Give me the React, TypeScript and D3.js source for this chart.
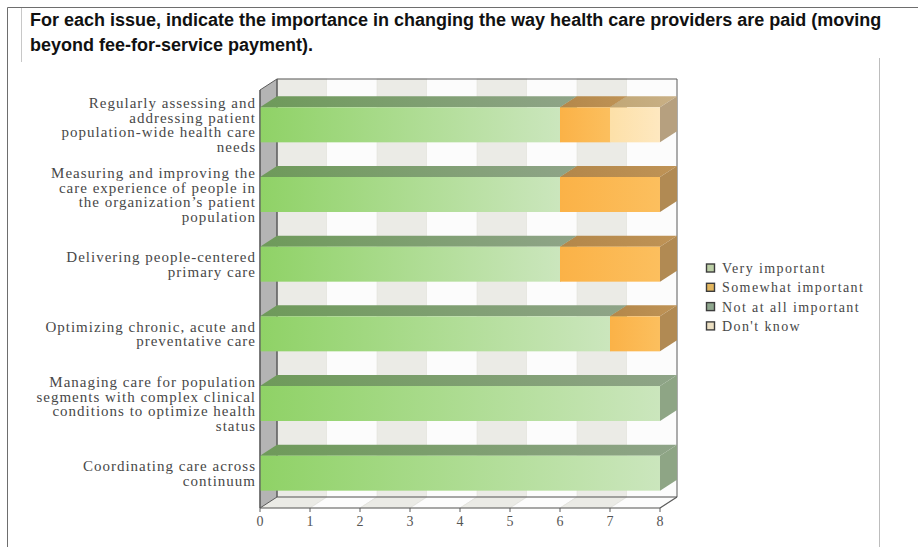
import React from "react";
import * as d3 from "d3";

const W = 918;
const H = 547;

const titleLines = [
  "For each issue, indicate the importance in changing the way health care providers are paid (moving",
  "beyond fee-for-service payment).",
];

const categories = [
  "Regularly assessing and addressing patient population-wide health care needs",
  "Measuring and improving the care experience of people in the organization's patient population",
  "Delivering people-centered primary care",
  "Optimizing chronic, acute and preventative care",
  "Managing care for population segments with complex clinical conditions to optimize health status",
  "Coordinating care across continuum",
];

const categoryLines = [
  ["Regularly assessing and", "addressing patient", "population-wide health care", "needs"],
  ["Measuring and improving the", "care experience of people in", "the organization\u2019s patient", "population"],
  ["Delivering people-centered", "primary care"],
  ["Optimizing chronic, acute and", "preventative care"],
  ["Managing care for population", "segments with complex clinical", "conditions to optimize health", "status"],
  ["Coordinating care across", "continuum"],
];

const seriesNames = ["Very important", "Somewhat important", "Not at all important", "Don't know"];
const veryImportant = [6, 6, 6, 7, 8, 8];
const somewhatImportant = [1, 2, 2, 1, 0, 0];
const notAtAllImportant = [0, 0, 0, 0, 0, 0];
const dontKnow = [1, 0, 0, 0, 0, 0];

const xTicks = [0, 1, 2, 3, 4, 5, 6, 7, 8];

// styles per series
const seriesStyle = [
  { front: ["#8fd266", "#cbe6bd"], top: ["#6e9a5a", "#8fa488"], side: "#8ea585", legend: "#bccfa6" },
  { front: ["#fbb247", "#fcbf5e"], top: ["#b3874a", "#bf9356"], side: "#b18a53", legend: "#e2b65e" },
  { front: ["#8aa47e", "#a9bda0"], top: ["#6b7f62", "#7f9278"], side: "#788c6f", legend: "#8fa78e" },
  { front: ["#fde0a8", "#fee8c0"], top: ["#c1a776", "#c9b086"], side: "#b6a07f", legend: "#ebdfc2" },
];

const DX = 17;
const DY = -11;

export default function App() {
  const x = d3.scaleLinear().domain([0, 8]).range([260, 660]);
  const y = d3
    .scaleBand<string>()
    .domain(categories)
    .range([90, 508])
    .paddingInner(0.4976)
    .paddingOuter(0.2488);

  const table = categories.map((c, i) => ({
    cat: c,
    [seriesNames[0]]: veryImportant[i],
    [seriesNames[1]]: somewhatImportant[i],
    [seriesNames[2]]: notAtAllImportant[i],
    [seriesNames[3]]: dontKnow[i],
  }));
  const stacked = d3.stack<any>().keys(seriesNames)(table);

  const x0 = x(0);
  const x8 = x(8);
  const yTop = 90;
  const yBot = 508;
  const frame = "#5b5b5b";
  const serif = "'Liberation Serif', 'Times New Roman', serif";

  const poly = (pts: [number, number][]) => pts.map((p) => p.join(",")).join(" ");

  const bands = xTicks.slice(0, -1).map((t) => ({ a: x(t), b: x(t + 1), gray: t % 2 === 0 }));

  return (
    <svg width={W} height={H} style={{ position: "absolute", left: 0, top: 0, background: "#fff" }}>
      <defs>
        {seriesStyle.map((s, i) => (
          <React.Fragment key={i}>
            <linearGradient id={`front${i}`} x1="0" x2="1" y1="0" y2="0">
              <stop offset="0" stopColor={s.front[0]} />
              <stop offset="1" stopColor={s.front[1]} />
            </linearGradient>
            <linearGradient id={`top${i}`} x1="0" x2="1" y1="0" y2="0">
              <stop offset="0" stopColor={s.top[0]} />
              <stop offset="1" stopColor={s.top[1]} />
            </linearGradient>
          </React.Fragment>
        ))}
      </defs>
      <rect x={0} y={0} width={W} height={H} fill="#ffffff" />
      {/* page frame */}
      <line x1={7.5} y1={7.5} x2={W} y2={7.5} stroke="#6e6e6e" strokeWidth={1} />
      <line x1={7.5} y1={7.5} x2={7.5} y2={H} stroke="#6e6e6e" strokeWidth={1} />
      <line x1={21.5} y1={8} x2={21.5} y2={62} stroke="#c8c8c8" strokeWidth={1} />
      <line x1={879.5} y1={58} x2={879.5} y2={H} stroke="#bdbdbd" strokeWidth={1} />

      {/* title */}
      {titleLines.map((t, i) => (
        <text
          key={i}
          x={30}
          y={26 + i * 25}
          fontFamily="'Liberation Sans', Arial, sans-serif"
          fontWeight="bold"
          fontSize={18}
          fill="#111"
        >
          {t}
        </text>
      ))}

      {/* back wall bands */}
      {bands.map((b, i) => (
        <rect
          key={`bw${i}`}
          x={b.a + DX}
          y={yTop + DY}
          width={b.b - b.a}
          height={yBot - yTop}
          fill={b.gray ? "#ebebe6" : "#fcfcfc"}
          stroke={b.gray ? "#e0e0da" : "none"}
          strokeWidth={0.6}
        />
      ))}
      {/* floor bands */}
      {bands.map((b, i) => (
        <polygon
          key={`fl${i}`}
          points={poly([
            [b.a, yBot],
            [b.b, yBot],
            [b.b + DX, yBot + DY],
            [b.a + DX, yBot + DY],
          ])}
          fill={b.gray ? "#ebebe6" : "#fcfcfc"}
          stroke="#dcdcd6"
          strokeWidth={0.6}
        />
      ))}
      {/* left wall */}
      <polygon
        points={poly([
          [x0, yTop],
          [x0 + DX, yTop + DY],
          [x0 + DX, yBot + DY],
          [x0, yBot],
        ])}
        fill="#b4b4b4"
        stroke={frame}
        strokeWidth={1}
      />
      {/* back wall frame */}
      <polyline
        points={poly([
          [x0 + DX, yBot + DY],
          [x0 + DX, yTop + DY],
          [x8 + DX, yTop + DY],
          [x8 + DX, yBot + DY],
          [x0 + DX, yBot + DY],
        ])}
        fill="none"
        stroke={frame}
        strokeWidth={1}
      />

      {/* bars */}
      {categories.map((c, ci) => {
        const yb = y(c)!;
        const h = y.bandwidth();
        return (
          <g key={c}>
            {stacked.map((s, si) => {
              const v0 = s[ci][0];
              const v1 = s[ci][1];
              if (v1 - v0 <= 0) return null;
              const a = x(v0);
              const b = x(v1);
              return (
                <g key={si}>
                  <polygon
                    points={poly([
                      [a, yb],
                      [b, yb],
                      [b + DX, yb + DY],
                      [a + DX, yb + DY],
                    ])}
                    fill={`url(#top${si})`}
                  />
                  <polygon
                    points={poly([
                      [b, yb],
                      [b + DX, yb + DY],
                      [b + DX, yb + h + DY],
                      [b, yb + h],
                    ])}
                    fill={seriesStyle[si].side}
                  />
                  <rect x={a} y={yb} width={b - a} height={h} fill={`url(#front${si})`} />
                </g>
              );
            })}
          </g>
        );
      })}

      {/* front frame edges */}
      <line x1={x0} y1={yTop} x2={x0} y2={yBot} stroke={frame} strokeWidth={1.2} />
      <line x1={x0} y1={yBot} x2={x8} y2={yBot} stroke={frame} strokeWidth={1.2} />
      <line x1={x8} y1={yBot} x2={x8 + DX} y2={yBot + DY} stroke={frame} strokeWidth={1.2} />

      {/* x ticks */}
      {xTicks.map((t) => (
        <g key={`t${t}`}>
          <line x1={x(t)} y1={yBot} x2={x(t)} y2={yBot + 4} stroke={frame} strokeWidth={1} />
          <text x={x(t)} y={yBot + 18} textAnchor="middle" fontFamily={serif} fontSize={14} fill="#555">
            {t}
          </text>
        </g>
      ))}

      {/* category labels */}
      {categories.map((c, ci) => {
        const lines = categoryLines[ci];
        const cy = y(c)! + y.bandwidth() / 2;
        const lh = 14.5;
        const start = cy - ((lines.length - 1) * lh) / 2;
        return (
          <text key={`l${ci}`} textAnchor="end" fontFamily={serif} fontSize={15} letterSpacing={1.0} fill="#484848">
            {lines.map((ln, li) => (
              <tspan key={li} x={256} y={start + li * lh} dy="0.35em">
                {ln}
              </tspan>
            ))}
          </text>
        );
      })}

      {/* legend */}
      {seriesNames.map((n, i) => {
        const ly = 268 + i * 19.3;
        return (
          <g key={n}>
            <rect x={706.5} y={ly - 4} width={8} height={8} fill={seriesStyle[i].legend} stroke="#3c3c3c" strokeWidth={1.4} />
            <text x={722} y={ly} dy="0.35em" fontFamily={serif} fontSize={14} letterSpacing={1.4} fill="#484848">
              {n}
            </text>
          </g>
        );
      })}
    </svg>
  );
}
